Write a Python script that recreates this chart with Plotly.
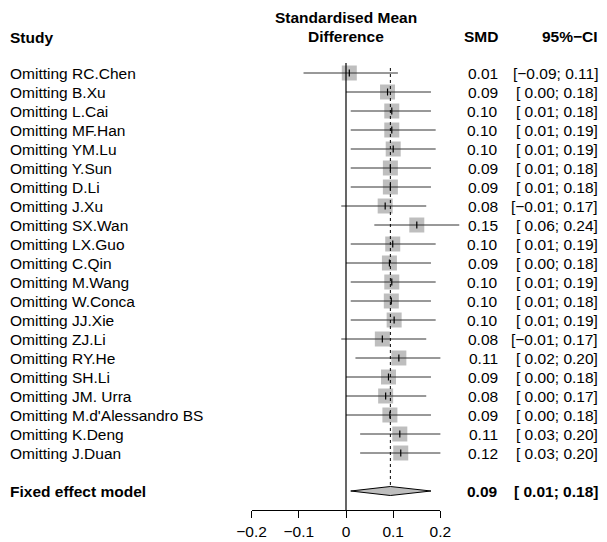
import plotly.graph_objects as go

# ---------------- data ----------------
studies = ["RC.Chen", "B.Xu", "L.Cai", "MF.Han", "YM.Lu", "Y.Sun", "D.Li", "J.Xu",
           "SX.Wan", "LX.Guo", "C.Qin", "M.Wang", "W.Conca", "JJ.Xie", "ZJ.Li",
           "RY.He", "SH.Li", "JM. Urra", "M.d'Alessandro BS", "K.Deng", "J.Duan"]
smd = [0.007, 0.088, 0.097, 0.097, 0.100, 0.094, 0.094, 0.083, 0.150, 0.099, 0.092,
       0.097, 0.096, 0.102, 0.077, 0.112, 0.090, 0.084, 0.093, 0.114, 0.116]
ci_lower = [-0.09, 0.00, 0.01, 0.01, 0.01, 0.01, 0.01, -0.01, 0.06, 0.01, 0.00,
            0.01, 0.01, 0.01, -0.01, 0.02, 0.00, 0.00, 0.00, 0.03, 0.03]
ci_upper = [0.11, 0.18, 0.18, 0.19, 0.19, 0.18, 0.18, 0.17, 0.24, 0.19, 0.18,
            0.19, 0.18, 0.19, 0.17, 0.20, 0.18, 0.17, 0.18, 0.20, 0.20]
pooled_label = "Fixed effect model"
pooled_smd = 0.094
pooled_lower = 0.01
pooled_upper = 0.18
axis_ticks = [-0.2, -0.1, 0, 0.1, 0.2]

# ---------------- layout constants ----------------
W, H = 607, 542
MB = 32                  # bottom margin (axis line at H - MB)
ROW0_PX, ROW_PX = 73, 19 # first row pixel centre, row spacing
ZERO_PX, PX_PER_UNIT = 346, 472
FONT = "Liberation Sans, Arial, Helvetica, sans-serif"
FS = 15.5
SQ_COLOR = "#BEBEBE"


def y_of_px(py):
    return -(py - ROW0_PX) / ROW_PX


def x_of_px(px):
    return (px - ZERO_PX) / PX_PER_UNIT


def fmt_lo(v):
    s = f"{abs(v):.2f}"
    return ("\u2212" + s) if v < 0 else ("\u00a0" + s)


def fmt_hi(v):
    s = f"{abs(v):.2f}"
    return ("\u2212" + s) if v < 0 else s


n = len(studies)
rows = [-i for i in range(n)]
pooled_y = -(n + 1)
dia_half = 4.5 / ROW_PX

fig = go.Figure()

# zero line on visible axis subplot (drawn first)
fig.add_trace(go.Scatter(
    x=[0, 0], y=[y_of_px(63), y_of_px(H - MB)], mode="lines",
    xaxis="x2", yaxis="y", line=dict(color="black", width=1.2), hoverinfo="skip"))

# squares
fig.add_trace(go.Scatter(
    x=smd, y=rows, mode="markers",
    marker=dict(symbol="square", size=15, color=SQ_COLOR, line=dict(width=0)),
    hoverinfo="skip"))

# CI lines
xs, ys = [], []
for lo, hi, r in zip(ci_lower, ci_upper, rows):
    xs += [lo, hi, None]
    ys += [r, r, None]
fig.add_trace(go.Scatter(x=xs, y=ys, mode="lines",
                         line=dict(color="#333333", width=1), hoverinfo="skip"))

# point estimate ticks
fig.add_trace(go.Scatter(
    x=smd, y=rows, mode="markers",
    marker=dict(symbol="line-ns", size=5, line=dict(width=1.2, color="black")),
    hoverinfo="skip"))

# dashed pooled line
fig.add_trace(go.Scatter(
    x=[pooled_smd, pooled_smd], y=[y_of_px(68), pooled_y + dia_half], mode="lines",
    line=dict(color="black", width=1, dash="3px,3px"), hoverinfo="skip"))

# diamond
fig.add_trace(go.Scatter(
    x=[pooled_lower, pooled_smd, pooled_upper, pooled_smd, pooled_lower],
    y=[pooled_y, pooled_y + dia_half, pooled_y, pooled_y - dia_half, pooled_y],
    mode="lines", fill="toself", fillcolor=SQ_COLOR,
    line=dict(color="black", width=1), hoverinfo="skip"))

ann = []
def add_text(text, px, py, anchor="left", bold=False):
    ann.append(dict(
        text=f"<b>{text}</b>" if bold else text,
        x=px / W, xref="paper", y=py, yref="y",
        xanchor=anchor, yanchor="middle", showarrow=False,
        font=dict(family=FONT, size=FS, color="black"), borderpad=0, borderwidth=0))

# headers
add_text("Study", 10, y_of_px(37), bold=True)
add_text("Standardised Mean", ZERO_PX, y_of_px(17), anchor="center", bold=True)
add_text("Difference", ZERO_PX, y_of_px(36), anchor="center", bold=True)
add_text("SMD", 498, y_of_px(36), anchor="right", bold=True)
add_text("95%\u2212CI", 598, y_of_px(36), anchor="right", bold=True)

for s, v, lo, hi, r in zip(studies, smd, ci_lower, ci_upper, rows):
    add_text("Omitting " + s, 10, r)
    add_text(f"{v:.2f}", 498, r, anchor="right")
    add_text(f"[{fmt_lo(lo)}; {fmt_hi(hi)}]", 598, r, anchor="right")

add_text(pooled_label, 10, pooled_y, bold=True)
add_text(f"{pooled_smd:.2f}", 498, pooled_y, anchor="right", bold=True)
add_text(f"[{fmt_lo(pooled_lower)}; {fmt_hi(pooled_upper)}]", 598, pooled_y,
         anchor="right", bold=True)

fig.update_layout(
    width=W, height=H,
    margin=dict(l=0, r=0, t=0, b=MB, autoexpand=False),
    paper_bgcolor="white", plot_bgcolor="rgba(0,0,0,0)",
    showlegend=False,
    annotations=ann,
    xaxis=dict(range=[x_of_px(0), x_of_px(W)], visible=False, domain=[0, 1]),
    xaxis2=dict(range=[-0.2, 0.2], domain=[(ZERO_PX - 0.2 * PX_PER_UNIT) / W,
                                           (ZERO_PX + 0.2 * PX_PER_UNIT) / W],
                anchor="y", showline=True, linecolor="black", linewidth=1,
                ticks="outside", ticklen=7, tickwidth=1, tickcolor="black",
                tickvals=axis_ticks, showgrid=False, zeroline=False,
                tickfont=dict(family=FONT, size=FS, color="black")),
    yaxis=dict(range=[y_of_px(H - MB), y_of_px(0)], visible=False, domain=[0, 1]),
)

fig.write_html(
    "out.html",
    config={"displayModeBar": False},
    post_script="document.body.style.margin='0';document.body.style.overflow='hidden';",
)
